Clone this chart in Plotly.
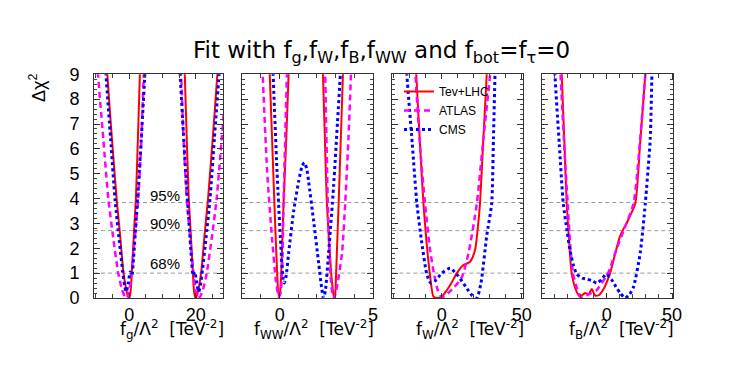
import plotly.graph_objects as go

W, H = 747, 373
FONT = "Liberation Sans, Arial, sans-serif"
TFONT = "DejaVu Sans, sans-serif"

# ---------------- data ----------------
series_names = ["Tev+LHC", "ATLAS", "CMS"]
cl_levels = [1.0, 2.71, 3.84]
cl_labels = ["68%", "90%", "95%"]
y_ticks = [0, 1, 2, 3, 4, 5, 6, 7, 8, 9]

# panel 1 : f_g
fg_red_x = [-7.6, -6.6, -5.2, -3.8, -2.8, -1.8, -1.0, -0.4, 0.0, 0.4, 0.8, 1.4, 2.0, 2.6, 3.2, 3.6, None,
            16.3, 16.7, 17.3, 17.9, 18.5, 19.1, 19.5, 19.9, 20.3, 20.9, 21.7, 22.7, 23.7, 25.1, 26.5, 27.5]
fg_red_y = [11.5, 9.0, 6.4, 4.0, 2.6, 1.1, 0.4, 0.08, 0.0, 0.25, 1.1, 2.6, 4.0, 6.4, 9.0, 10.5, None,
            10.5, 9.0, 6.4, 4.0, 2.6, 1.1, 0.25, 0.0, 0.08, 0.4, 1.1, 2.6, 4.0, 6.4, 9.0, 11.5]
fg_atl_x = [-10.6, -9.4, -7.8, -6.3, -4.8, -3.3, -2.2, -1.3, -0.7, 0.0, 0.6, 1.3, 2.0, 2.7, 3.6, 4.4, 5.0, None,
            15.0, 15.6, 16.4, 17.3, 18.0, 18.7, 19.4, 20.0, 20.7, 21.3, 22.2, 23.3, 24.8, 26.3, 27.8, 29.4, 30.6]
fg_atl_y = [11.5, 9.0, 6.4, 4.0, 2.4, 1.0, 0.35, 0.05, 0.0, 0.25, 0.9, 1.9, 2.9, 4.0, 6.2, 9.0, 10.8, None,
            10.8, 9.0, 6.2, 4.0, 2.9, 1.9, 0.9, 0.25, 0.0, 0.05, 0.35, 1.0, 2.4, 4.0, 6.4, 9.0, 11.5]
fg_cms_x = [-7.8, -7.0, -5.6, -4.3, -3.0, -2.0, -1.4, -0.9, -0.3, 0.3, 0.8, 1.3, 2.0, 2.8, 3.7, 4.7, 5.3, None,
            14.7, 15.3, 16.3, 17.2, 18.0, 18.7, 19.2, 19.7, 20.3, 20.9, 21.4, 22.0, 23.0, 24.3, 25.6, 27.0, 27.8]
fg_cms_y = [11.0, 9.0, 6.4, 4.0, 2.3, 1.1, 0.5, 0.25, 0.6, 1.05, 0.9, 1.6, 3.0, 4.6, 6.6, 9.0, 10.5, None,
            10.5, 9.0, 6.6, 4.6, 3.0, 1.6, 0.9, 1.05, 0.6, 0.25, 0.5, 1.1, 2.3, 4.0, 6.4, 9.0, 11.0]

# panel 2 : f_WW
fww_red_x = [-0.6, -0.53, -0.41, -0.28, -0.14, -0.05, 0.02, 0.1, 0.21, 0.36, 0.48, 0.55, None,
             2.27, 2.32, 2.42, 2.53, 2.75, 2.88, 2.93, 2.98, 3.03, 3.16, 3.28, 3.39, 3.45]
fww_red_y = [10.5, 9.0, 6.5, 3.8, 1.1, 0.05, 0.2, 1.3, 3.8, 6.5, 9.0, 10.5, None,
             10.5, 9.0, 6.5, 3.8, 1.1, 0.15, 0.0, 0.2, 1.1, 3.8, 6.5, 9.0, 10.5]
fww_atl_x = [-1.0, -0.91, -0.67, -0.41, -0.2, -0.05, 0.05, 0.13, 0.21, 0.3, 0.39, 0.45, None,
             2.38, 2.44, 2.58, 2.71, 2.82, 2.92, 3.07, 3.34, 3.51, 3.69, 3.82, 3.9]
fww_atl_y = [10.5, 9.0, 5.1, 2.4, 0.7, 0.05, 0.2, 1.1, 3.8, 6.5, 9.0, 10.5, None,
             10.5, 9.0, 3.8, 1.1, 0.2, 0.0, 0.45, 1.8, 3.8, 6.5, 9.0, 10.5]
fww_cms_x = [-0.42, -0.35, -0.14, 0.04, 0.18, 0.25, 0.35, 0.48, 0.75, 1.02, 1.2, 1.32, 1.45, 1.55, 1.82,
             2.09, 2.25, 2.35, 2.45, 2.62, 2.89, 3.1, 3.25, 3.32]
fww_cms_y = [10.5, 9.0, 5.1, 2.4, 0.8, 0.6, 0.9, 1.8, 3.5, 4.7, 5.3, 5.45, 5.2, 4.7, 3.1,
             1.4, 0.4, 0.0, 0.3, 1.8, 4.5, 7.1, 9.0, 10.5]

# panel 3 : f_W
fw_red_x = [-17, -16, -13.5, -11.5, -9.5, -7.3, -5.2, -2.5, 0, 3, 6, 9.4, 13, 17.7, 20.8, 22.5, 23.9, 26, 28.1, 29]
fw_red_y = [10.5, 9.0, 6.0, 3.8, 2.2, 0.86, 0.05, 0.0, 0.05, 0.3, 0.6, 1.0, 1.3, 1.46, 1.93, 2.8, 3.8, 6.4, 9.0, 10.5]
fw_atl_x = [-17.5, -16.5, -13.5, -10.5, -7.5, -5, -2.5, 0, 4, 8, 12.5, 16.7, 21.9, 26, 30.2, 31.5]
fw_atl_y = [10.5, 9.0, 6.0, 3.8, 2.0, 1.0, 0.3, 0.02, 0.2, 0.45, 0.83, 1.8, 3.8, 6.4, 9.0, 10.5]
fw_cms_x = [-23, -21.9, -18.5, -15.6, -12.5, -9.4, -7, -4, 0, 5.2, 10, 15, 19, 21.9, 24.5, 28.1, 31.2, 32.3, 33.3, 34]
fw_cms_y = [10.5, 9.0, 6.2, 3.8, 2.2, 0.96, 0.6, 0.7, 1.0, 1.2, 0.9, 0.45, 0.1, 0.0, 0.6, 2.5, 3.8, 6.4, 9.0, 10.5]

# panel 4 : f_B
fb_red_x = [-36, -34.6, -32.5, -30.8, -28.8, -26.9, -23.5, -20.5, -16.7, -14, -11.5, -9, -6, -2.6, 2.5, 6,
            10.2, 16, 21.8, 25.5, 29.5, 31]
fb_red_y = [11, 9.0, 6.2, 3.8, 2.2, 0.96, 0.3, 0.05, 0.2, 0.15, 0.36, 0.1, 0.12, 0.35, 1.0, 1.7,
            2.5, 3.1, 3.8, 6.2, 9.0, 10.5]
fb_atl_x = [-37, -35.5, -32, -30, -28.2, -26, -23, -20, -16, -12, -8, -4, 0, 2.5, 7, 12.8, 20.5, 25.6, 29.5, 31]
fb_atl_y = [11, 9.0, 5.5, 3.8, 2.2, 1.0, 0.4, 0.05, 0.1, 0.2, 0.3, 0.6, 0.9, 1.2, 1.9, 2.7, 3.8, 6.4, 9.0, 10.5]
fb_cms_x = [-41, -39.8, -36.5, -33.4, -30.5, -28.2, -25.5, -23.1, -19, -15.4, -11.5, -7.7, -4, -0.5, 3.5, 7,
            10.2, 14.1, 17.5, 20.5, 25.6, 29.5, 33.3, 34.6, 35.5]
fb_cms_y = [11, 9.0, 6.2, 3.8, 2.7, 1.9, 1.3, 0.96, 0.8, 0.76, 0.7, 0.6, 0.75, 0.96, 0.75, 0.45,
            0.2, 0.0, 0.15, 0.45, 1.8, 3.8, 6.4, 9.0, 10.5]

panel_ranges = [[-10.6, 28.2], [-2.0, 5.0], [-31.0, 51.0], [-49.5, 51.0]]
panel_tickvals = [[0, 20], [0, 5], [0, 50], [0, 50]]
panel_minor = [5, 1, 10, 10]
SP = "&nbsp;&nbsp;"
panel_titles = ["f<sub>g</sub>/Λ<sup>2</sup>" + SP + "[TeV<sup>-2</sup>]",
                "f<sub>WW</sub>/Λ<sup>2</sup>" + SP + "[TeV<sup>-2</sup>]",
                "f<sub>W</sub>/Λ<sup>2</sup>" + SP + "[TeV<sup>-2</sup>]",
                "f<sub>B</sub>/Λ<sup>2</sup>" + SP + "[TeV<sup>-2</sup>]"]

panels = [
    [(fg_red_x, fg_red_y), (fg_atl_x, fg_atl_y), (fg_cms_x, fg_cms_y)],
    [(fww_red_x, fww_red_y), (fww_atl_x, fww_atl_y), (fww_cms_x, fww_cms_y)],
    [(fw_red_x, fw_red_y), (fw_atl_x, fw_atl_y), (fw_cms_x, fw_cms_y)],
    [(fb_red_x, fb_red_y), (fb_atl_x, fb_atl_y), (fb_cms_x, fb_cms_y)],
]

# ---------------- styling ----------------
styles = [dict(color="#ff0000", width=2, dash="solid"),
          dict(color="#ff00ff", width=2.5, dash="6px,4px"),
          dict(color="#0000ff", width=3, dash="dot")]

px_left = [94, 242.3, 392.3, 542.3]
px_right = [223, 373, 523.3, 673.3]
py_top, py_bot = 74.3, 298

fig = go.Figure()

for i, pdata in enumerate(panels):
    ax = "" if i == 0 else str(i + 1)
    for j, (xs, ys) in enumerate(pdata):
        fig.add_trace(go.Scatter(
            x=xs, y=ys, mode="lines", name=series_names[j],
            line=dict(color=styles[j]["color"], width=styles[j]["width"],
                      dash=styles[j]["dash"], shape="spline", smoothing=0.6),
            connectgaps=False, showlegend=(i == 2),
            xaxis="x" + ax, yaxis="y" + ax, hoverinfo="skip"))

layout = dict(
    template="none",
    width=W, height=H, autosize=False,
    margin=dict(l=0, r=0, t=0, b=0, pad=0, autoexpand=False),
    paper_bgcolor="white", plot_bgcolor="white",
    font=dict(family=FONT, color="black"),
    showlegend=True,
    legend=dict(x=399 / W, y=(H - 77) / H, xanchor="left", yanchor="top",
                bgcolor="rgba(0,0,0,0)", font=dict(size=12, family=FONT),
                itemwidth=30, tracegroupgap=0, borderwidth=0),
)

for i in range(4):
    ax = "" if i == 0 else str(i + 1)
    layout["xaxis" + ax] = dict(
        domain=[px_left[i] / W, px_right[i] / W], anchor="y" + ax, automargin=False,
        range=panel_ranges[i], showgrid=False, zeroline=False,
        showline=True, linecolor="#333", linewidth=1, mirror="allticks",
        ticks="inside", ticklen=5, tickcolor="#333",
        tickvals=panel_tickvals[i], tickfont=dict(size=18, family=FONT),
        minor=dict(dtick=panel_minor[i], tick0=0, ticks="inside", ticklen=4, tickcolor="#444", showgrid=False),
    )
    layout["yaxis" + ax] = dict(
        domain=[(H - py_bot) / H, (H - py_top) / H], anchor="x" + ax, automargin=False,
        range=[0, 9], showgrid=False, zeroline=False,
        showline=True, linecolor="#333", linewidth=1, mirror="allticks",
        ticks="inside", ticklen=6, tickcolor="#333",
        tickvals=y_ticks, showticklabels=(i == 0), tickfont=dict(size=18, family=FONT),
        ticklabelstandoff=10,
        minor=dict(dtick=0.2, tick0=0, ticks="inside", ticklen=3, tickcolor="#444", showgrid=False),
    )

fig.update_layout(**layout)

# confidence-level lines
for i in range(4):
    ax = "" if i == 0 else str(i + 1)
    for lv in cl_levels:
        fig.add_shape(type="line", xref="x" + ax + " domain", yref="y" + ax,
                      x0=0, x1=1, y0=lv, y1=lv,
                      line=dict(color="#999999", width=1, dash="4px,3px"), layer="below")

# CL labels in the first panel
cl_label_y = [1.4, 3.0, 4.14]
for lab, yy in zip(cl_labels, cl_label_y):
    fig.add_annotation(x=10.75, y=yy, xref="x", yref="y", text=lab, showarrow=False,
                       font=dict(size=15, family=FONT), xanchor="center", yanchor="middle")

# title
fig.add_annotation(x=381 / W, y=(H - 52) / H, xref="paper", yref="paper",
                   text="Fit with f<sub>g</sub>,f<sub>W</sub>,f<sub>B</sub>,f<sub>WW</sub> and f<sub>bot</sub>=f<sub>τ</sub>=0",
                   showarrow=False, font=dict(size=23, family=TFONT),
                   xanchor="center", yanchor="middle")

# y title
fig.add_annotation(x=37 / W, y=(H - 88) / H, xref="paper", yref="paper",
                   text="Δχ<sup>2</sup>", textangle=-90, showarrow=False,
                   font=dict(size=18, family=FONT), xanchor="center", yanchor="middle")

# x titles
for i in range(4):
    fig.add_annotation(x=(px_right[i] + 3) / W, y=(H - 329) / H, xref="paper", yref="paper",
                       text=panel_titles[i], showarrow=False,
                       font=dict(size=17, family=TFONT), xanchor="right", yanchor="middle")

fig.write_html("out.html", config={"displayModeBar": False},
               post_script="document.body.style.margin='0px';")
